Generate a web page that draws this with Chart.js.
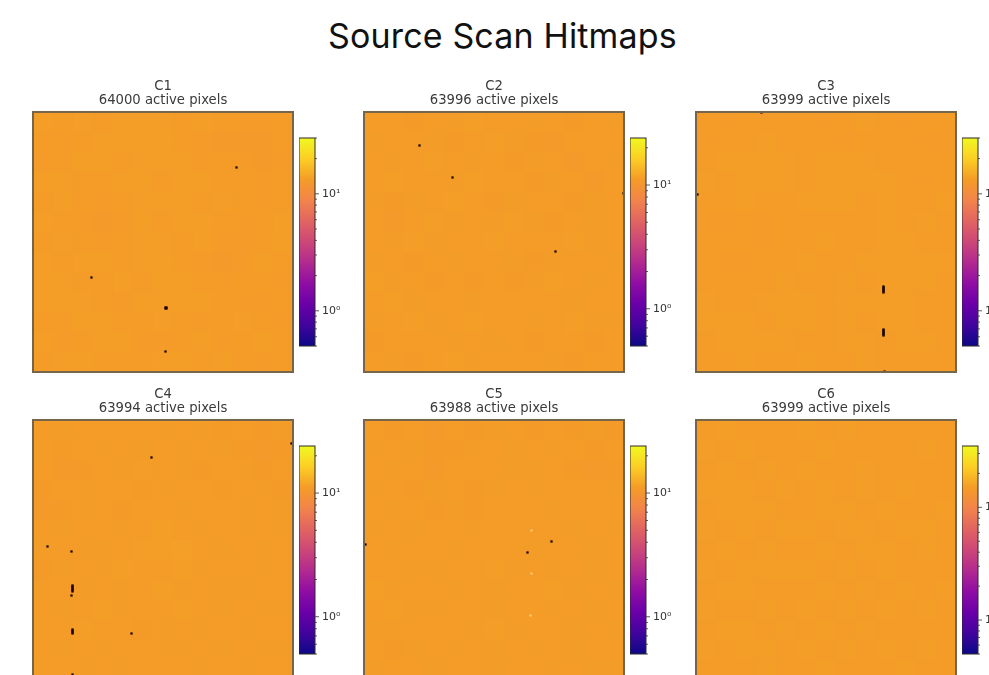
<!DOCTYPE html>
<html>
<head>
<meta charset="utf-8">
<title>Source Scan Hitmaps</title>
<script src="https://cdn.jsdelivr.net/npm/chart.js@4"></script>
<style>
    html, body { margin: 0; padding: 0; background: #fff; width: 989px; height: 675px; overflow: hidden; }
    #page { position: relative; width: 989px; height: 675px; overflow: hidden; }
    h1 { position: absolute; left: 328px; top: 13px; margin: 0; font: 400 34px/46px Inter, sans-serif; letter-spacing: 0.15px; color: #111; white-space: nowrap; }
    canvas { position: absolute; filter: blur(0.45px); }
</style>
</head>
<body>
<div id="page"><h1>Source Scan Hitmaps</h1></div>
<script>
// Panel names and the counts printed over each panel
const sensors = ['C1', 'C2', 'C3', 'C4', 'C5', 'C6'];
const activePixels = [64000, 63996, 63999, 63994, 63988, 63999];

const vmin = 0.5;
const vmaxes = [30, 24, 30, 24, 24, 35];
const cbarTicks = [0.5, 0.6, 0.7, 0.8, 0.9, 1, 2, 3, 4, 5, 6, 7, 8, 9, 10, 20, 30];
const labelledTicks = { 1: '10\u2070', 10: '10\u00b9' };

// Plasma colours, evenly spaced from vmin to vmax
const cmapStops = ['#0d0887', '#41049d', '#6a00a8', '#8f0da4', '#b12a90', '#cc4778', '#e16462', '#f2844b', '#f49c27', '#fcce25', '#f0f921'];

// Mean hits per block, 13 x 13 blocks, estimated by eye (single pixels are not readable)
const c1Hits = [
    [13.4, 13.1, 13.3, 13.2, 13.4, 13.5, 13.3, 13.2, 13.4, 13.1, 12.9, 13.0, 13.2],
    [13.2, 13.0, 13.2, 13.4, 13.5, 13.3, 13.4, 13.1, 13.0, 12.8, 12.7, 12.8, 13.1],
    [13.0, 13.2, 13.4, 13.3, 13.2, 13.4, 13.5, 13.3, 13.0, 13.1, 12.9, 12.8, 13.0],
    [13.3, 13.4, 13.1, 13.2, 13.5, 13.3, 13.2, 13.4, 13.3, 13.1, 13.2, 13.0, 13.2],
    [13.1, 13.3, 13.2, 12.9, 13.1, 13.4, 13.5, 13.3, 13.2, 13.4, 13.1, 12.9, 13.1],
    [13.4, 13.2, 13.0, 12.8, 13.0, 13.3, 13.2, 13.4, 13.5, 13.2, 13.0, 13.1, 13.3],
    [13.2, 13.4, 13.1, 13.0, 13.2, 13.4, 13.3, 13.1, 13.3, 13.0, 12.9, 13.2, 13.4],
    [13.3, 13.1, 13.3, 13.4, 13.2, 13.3, 13.5, 13.2, 13.0, 12.8, 13.0, 13.3, 13.2],
    [13.5, 13.4, 13.2, 13.1, 13.3, 13.2, 13.4, 13.3, 13.1, 12.9, 13.1, 13.2, 13.0],
    [13.4, 13.5, 13.3, 13.1, 13.0, 13.3, 13.4, 13.5, 13.3, 13.2, 13.0, 13.0, 13.2],
    [13.1, 13.2, 13.4, 13.3, 13.2, 13.1, 13.3, 13.2, 13.0, 13.1, 13.3, 13.1, 13.0],
    [13.3, 13.0, 13.2, 13.4, 13.3, 13.0, 12.9, 13.2, 13.3, 13.0, 13.2, 13.3, 13.1],
    [13.2, 13.3, 13.4, 13.2, 13.1, 13.2, 13.3, 13.4, 13.2, 13.3, 13.1, 13.0, 13.2]
];
const c2Hits = [
    [10.9, 11.1, 10.8, 10.9, 11.0, 11.2, 11.1, 10.9, 11.0, 11.1, 10.8, 10.9, 11.0],
    [11.0, 10.9, 11.1, 11.0, 10.8, 10.9, 11.2, 11.0, 10.8, 10.7, 10.9, 11.1, 10.9],
    [11.1, 11.0, 10.9, 11.2, 11.1, 11.0, 10.9, 10.8, 11.0, 10.9, 10.7, 10.9, 11.0],
    [10.9, 11.2, 11.1, 10.9, 11.0, 11.2, 11.1, 10.9, 10.8, 11.0, 10.9, 10.7, 10.9],
    [11.0, 10.8, 11.0, 11.1, 11.2, 10.9, 10.8, 11.0, 11.1, 10.9, 10.8, 11.0, 11.1],
    [11.1, 10.7, 10.9, 11.2, 11.0, 11.1, 11.0, 11.2, 11.0, 10.8, 11.1, 11.0, 10.9],
    [10.9, 11.0, 11.2, 11.0, 10.9, 11.1, 11.2, 11.1, 10.9, 11.1, 11.2, 11.0, 11.1],
    [11.0, 10.9, 10.8, 11.1, 11.0, 10.9, 11.1, 11.0, 10.8, 11.0, 11.1, 10.9, 11.0],
    [11.2, 11.0, 10.9, 10.8, 11.1, 10.8, 10.9, 10.8, 11.0, 11.2, 10.9, 11.0, 11.1],
    [11.1, 11.2, 11.0, 11.1, 10.9, 11.0, 11.1, 10.9, 10.9, 11.1, 11.0, 11.1, 10.9],
    [11.0, 11.1, 11.2, 11.0, 11.1, 11.2, 10.9, 11.1, 11.0, 10.9, 11.2, 11.0, 11.0],
    [10.8, 10.9, 11.1, 10.9, 11.0, 11.1, 11.0, 10.9, 10.8, 11.1, 10.9, 10.8, 10.9],
    [10.9, 11.0, 10.8, 11.1, 11.2, 11.0, 10.9, 11.1, 10.9, 11.0, 10.8, 10.9, 11.1]
];
const c3Hits = [
    [13.1, 13.0, 13.2, 13.1, 13.2, 13.1, 13.0, 13.2, 13.3, 13.1, 13.0, 13.2, 13.1],
    [13.0, 13.1, 13.2, 13.3, 13.1, 13.2, 13.1, 13.0, 13.2, 13.2, 13.1, 13.0, 13.0],
    [13.2, 13.3, 13.4, 13.4, 13.3, 13.2, 13.3, 13.4, 13.3, 13.2, 13.1, 13.1, 13.2],
    [13.3, 13.2, 13.4, 13.5, 13.3, 13.2, 13.3, 13.5, 13.4, 13.3, 13.2, 13.0, 13.1],
    [13.1, 13.2, 13.3, 13.2, 13.1, 13.3, 13.4, 13.3, 13.2, 13.3, 13.1, 13.2, 13.3],
    [13.0, 12.9, 13.1, 13.0, 13.2, 13.1, 13.2, 13.2, 13.1, 13.3, 13.2, 13.3, 13.1],
    [13.2, 13.1, 13.2, 13.0, 13.1, 13.2, 13.3, 13.1, 13.2, 13.3, 13.4, 13.2, 13.2],
    [13.1, 13.0, 13.0, 13.2, 13.2, 13.3, 13.1, 13.2, 13.3, 13.4, 13.3, 13.4, 13.3],
    [13.2, 13.2, 13.1, 13.1, 13.3, 13.2, 13.2, 13.3, 13.2, 13.3, 13.4, 13.3, 13.2],
    [13.3, 13.1, 13.2, 13.3, 13.4, 13.3, 13.2, 13.4, 13.4, 13.4, 13.3, 13.2, 13.1],
    [13.3, 13.4, 13.3, 13.2, 13.3, 13.4, 13.2, 13.3, 13.2, 13.3, 13.4, 13.2, 13.2],
    [13.2, 13.3, 13.4, 13.4, 13.3, 13.1, 13.2, 13.3, 13.3, 13.2, 13.3, 13.3, 13.1],
    [13.1, 13.2, 13.3, 13.2, 13.2, 13.3, 13.1, 13.2, 13.3, 13.2, 13.2, 13.1, 13.2]
];
const c4Hits = [
    [10.9, 11.0, 10.9, 11.1, 10.9, 11.1, 11.0, 10.9, 11.0, 10.8, 10.9, 10.8, 11.0],
    [11.0, 10.8, 10.9, 11.0, 11.1, 11.0, 11.1, 11.0, 10.9, 11.0, 10.8, 10.7, 10.8],
    [10.9, 10.7, 10.8, 10.9, 11.0, 11.2, 11.1, 11.0, 10.8, 10.9, 11.0, 10.8, 10.9],
    [10.8, 10.9, 11.0, 11.1, 10.9, 10.8, 11.0, 11.1, 10.9, 10.8, 10.9, 11.0, 10.8],
    [10.7, 10.8, 11.0, 10.9, 10.8, 10.9, 11.1, 11.0, 10.9, 11.1, 11.0, 10.9, 11.0],
    [10.9, 11.0, 10.9, 11.1, 11.0, 11.1, 11.2, 11.1, 11.0, 10.9, 11.0, 11.1, 11.0],
    [11.0, 10.9, 11.0, 11.0, 11.1, 11.2, 11.2, 11.3, 11.1, 11.0, 11.1, 11.0, 10.9],
    [10.8, 11.0, 11.1, 11.0, 11.2, 11.1, 11.1, 11.2, 11.0, 11.1, 10.9, 11.0, 11.1],
    [11.0, 10.9, 11.0, 11.1, 11.0, 11.1, 11.2, 11.0, 10.9, 11.0, 11.0, 11.1, 10.9],
    [11.1, 11.0, 11.1, 11.2, 11.0, 10.9, 11.1, 11.2, 11.1, 11.0, 11.1, 11.0, 11.0],
    [11.0, 10.9, 11.2, 11.1, 10.9, 10.8, 11.0, 11.1, 11.0, 10.9, 11.0, 10.9, 11.1],
    [10.9, 11.0, 11.1, 11.0, 11.1, 10.9, 11.0, 11.0, 11.1, 11.0, 10.9, 11.0, 11.0],
    [11.0, 11.1, 11.0, 10.9, 11.0, 11.1, 10.9, 11.1, 11.0, 11.1, 11.0, 11.1, 10.9]
];
const c5Hits = [
    [10.9, 10.8, 10.9, 10.7, 10.9, 10.8, 11.0, 10.9, 10.8, 10.9, 10.8, 11.0, 10.8],
    [11.0, 10.9, 11.0, 10.8, 10.8, 11.0, 10.9, 11.0, 10.9, 11.0, 10.9, 10.8, 10.9],
    [10.9, 11.0, 10.9, 10.7, 10.9, 11.1, 10.9, 11.0, 11.0, 10.9, 10.8, 10.7, 10.8],
    [11.0, 11.1, 10.8, 11.0, 10.9, 10.8, 11.0, 10.9, 11.0, 11.1, 10.9, 10.9, 11.0],
    [10.9, 11.0, 10.9, 10.8, 11.0, 10.8, 10.9, 11.1, 10.9, 11.0, 10.9, 11.1, 10.9],
    [11.0, 10.9, 11.0, 10.9, 10.9, 11.0, 11.1, 10.9, 11.1, 10.9, 11.0, 10.9, 11.0],
    [11.1, 11.0, 10.9, 11.1, 11.0, 11.1, 10.9, 11.1, 11.0, 11.1, 10.9, 11.0, 11.1],
    [10.9, 11.1, 11.0, 11.0, 11.1, 10.9, 11.2, 11.0, 11.1, 11.0, 11.1, 11.0, 10.9],
    [11.2, 11.0, 10.9, 11.1, 11.0, 11.1, 11.0, 11.1, 10.9, 11.2, 11.0, 11.1, 11.0],
    [11.1, 11.2, 11.0, 11.0, 10.9, 11.1, 11.0, 10.9, 11.1, 11.0, 11.1, 11.0, 11.1],
    [11.0, 11.0, 11.1, 10.9, 11.1, 11.0, 11.2, 11.0, 11.1, 10.9, 11.0, 11.1, 11.0],
    [10.9, 10.8, 11.0, 11.1, 11.0, 10.9, 11.0, 11.1, 11.0, 11.1, 11.0, 10.9, 10.9],
    [11.0, 11.1, 10.9, 11.0, 10.9, 11.1, 11.0, 10.9, 11.1, 11.0, 10.9, 11.0, 11.0]
];
const c6Hits = [
    [15.0, 15.1, 15.0, 14.9, 15.0, 15.1, 15.0, 15.1, 15.0, 15.0, 14.9, 15.0, 14.9],
    [15.1, 15.0, 15.1, 15.0, 14.9, 15.0, 15.1, 15.0, 14.9, 15.0, 15.0, 15.1, 15.0],
    [15.0, 15.1, 15.0, 15.1, 15.0, 15.1, 15.0, 14.9, 15.1, 15.0, 14.9, 15.0, 15.0],
    [15.1, 15.2, 15.1, 15.0, 15.1, 15.0, 15.1, 15.0, 15.1, 15.0, 15.1, 15.0, 14.9],
    [15.0, 15.1, 15.2, 15.1, 14.9, 15.0, 15.1, 15.1, 15.0, 15.1, 15.0, 15.0, 15.1],
    [15.1, 15.0, 15.1, 15.0, 15.1, 15.1, 15.0, 15.2, 15.1, 15.0, 15.1, 15.1, 15.0],
    [15.0, 15.1, 15.0, 15.1, 15.0, 15.0, 15.1, 15.0, 15.1, 15.1, 15.0, 15.1, 15.0],
    [15.1, 15.0, 15.1, 15.1, 15.2, 15.1, 15.0, 15.1, 15.0, 15.1, 15.0, 14.9, 15.0],
    [15.0, 15.1, 15.1, 15.0, 14.9, 15.0, 15.1, 15.0, 15.1, 15.0, 15.1, 15.0, 15.1],
    [15.1, 15.0, 15.0, 15.1, 15.0, 15.1, 15.0, 15.1, 15.0, 15.1, 15.0, 15.1, 15.0],
    [15.0, 15.1, 15.1, 15.0, 15.1, 15.0, 15.1, 15.0, 15.1, 15.0, 15.0, 15.0, 14.9],
    [15.1, 15.0, 15.1, 15.1, 15.0, 15.1, 15.0, 15.1, 15.0, 15.1, 15.0, 15.1, 15.0],
    [15.0, 14.9, 15.0, 15.1, 15.0, 15.0, 15.1, 15.0, 14.9, 15.0, 15.1, 15.0, 14.9]
];
const panelHits = [c1Hits, c2Hits, c3Hits, c4Hits, c5Hits, c6Hits];

// Dark dead pixels as [column, row] on a 260 x 260 axis
const c1Dead = [[203, 55], [58, 165], [132, 195], [133, 195], [132, 196], [133, 196], [132, 239]];
const c2Dead = [[55, 33], [88, 65], [191, 139], [259, 81]];
const c3Dead = [[187, 174], [187, 175], [187, 176], [187, 177], [187, 178], [187, 179], [187, 180],
    [187, 217], [187, 218], [187, 219], [187, 220], [187, 221], [187, 222], [187, 223],
    [188, 259], [65, 0], [1, 82]];
const c4Dead = [[118, 37], [258, 23], [14, 126], [38, 131],
    [39, 165], [39, 166], [39, 167], [39, 168], [39, 169], [39, 170], [39, 171], [38, 175],
    [39, 209], [39, 210], [39, 211], [39, 212], [39, 213], [98, 213], [39, 254]];
const c5Dead = [[187, 121], [163, 132], [1, 124]];
const c6Dead = [];
const panelDead = [c1Dead, c2Dead, c3Dead, c4Dead, c5Dead, c6Dead];

// Pale hot spots visible in C5 only
const c5Hot = [[167, 110], [167, 153], [166, 195]];

// Page positions of the six panels
const panelLefts = [33, 364, 696, 33, 364, 696];
const panelTops = [112, 112, 112, 420, 420, 420];
const PANEL_SIZE = 260;
const BLOCK = 20;

function hexToRgb(hex) {
    return [1, 3, 5].map(i => parseInt(hex.substr(i, 2), 16));
}

function colourFor(hits, vmax) {
    const t = Math.min(1, Math.max(0, Math.log(hits / vmin) / Math.log(vmax / vmin)));
    const pos = t * (cmapStops.length - 1);
    const i = Math.min(cmapStops.length - 2, Math.floor(pos));
    const a = hexToRgb(cmapStops[i]);
    const b = hexToRgb(cmapStops[i + 1]);
    const rgb = a.map((v, k) => Math.round(v + (b[k] - v) * (pos - i)));
    return `rgb(${rgb[0]},${rgb[1]},${rgb[2]})`;
}

function addCanvas(left, top, width, height) {
    const canvas = document.createElement('canvas');
    canvas.width = width;
    canvas.height = height;
    canvas.style.left = left + 'px';
    canvas.style.top = top + 'px';
    canvas.style.width = width + 'px';
    canvas.style.height = height + 'px';
    document.getElementById('page').appendChild(canvas);
    return canvas;
}

// Frame around the image axes and the colorbar
const framePlugin = {
    id: 'frame',
    afterDraw(chart, args, opts) {
        const { ctx, chartArea } = chart;
        ctx.save();
        ctx.strokeStyle = opts.color;
        ctx.lineWidth = opts.width;
        ctx.strokeRect(chartArea.left, chartArea.top, chartArea.right - chartArea.left, chartArea.bottom - chartArea.top);
        ctx.restore();
    }
};

// Chart.js has one tick length per axis, the colorbar needs major and minor ones
const cbarTickPlugin = {
    id: 'cbarTicks',
    afterDraw(chart) {
        const { ctx, chartArea, scales } = chart;
        ctx.save();
        ctx.strokeStyle = '#333';
        ctx.lineWidth = 0.8;
        scales.y.ticks.forEach(tick => {
            const y = scales.y.getPixelForValue(tick.value);
            const len = labelledTicks[tick.value] ? 4 : 2;
            ctx.beginPath();
            ctx.moveTo(chartArea.right, y);
            ctx.lineTo(chartArea.right + len, y);
            ctx.stroke();
        });
        ctx.restore();
    }
};

function initHitmap(index) {
    const left = panelLefts[index];
    const top = panelTops[index];
    const vmax = vmaxes[index];
    const canvas = addCanvas(left - 16, top - 40, PANEL_SIZE + 32, PANEL_SIZE + 56);

    const blocks = [];
    panelHits[index].forEach((row, r) => {
        row.forEach((hits, c) => {
            blocks.push({ x: (c + 0.5) * BLOCK, y: (r + 0.5) * BLOCK, hits: hits });
        });
    });
    const toPoint = p => ({ x: p[0] + 0.5, y: p[1] + 0.5 });

    new Chart(canvas, {
        type: 'scatter',
        plugins: [framePlugin],
        data: {
            datasets: [
                {
                    label: 'Dead pixels',
                    data: panelDead[index].map(toPoint),
                    pointStyle: 'rect',
                    pointRadius: 1.6,
                    pointBorderWidth: 0,
                    backgroundColor: '#1c0606',
                    order: 1
                },
                {
                    label: 'Hot pixels',
                    data: index === 4 ? c5Hot.map(toPoint) : [],
                    pointStyle: 'circle',
                    pointRadius: 1.3,
                    pointBorderWidth: 0,
                    backgroundColor: '#fbc76a',
                    order: 2
                },
                {
                    label: 'Hits',
                    data: blocks,
                    pointStyle: 'rect',
                    pointRadius: BLOCK / Math.SQRT2 + 0.4,
                    pointBorderWidth: 0,
                    backgroundColor: ctx => colourFor(ctx.raw ? ctx.raw.hits : vmin, vmax),
                    order: 3
                }
            ]
        },
        options: {
            responsive: false,
            animation: false,
            events: [],
            layout: { padding: { left: 16, right: 16, top: 0, bottom: 16 } },
            scales: {
                x: { type: 'linear', min: 0, max: PANEL_SIZE, display: false },
                y: { type: 'linear', min: 0, max: PANEL_SIZE, reverse: true, display: false }
            },
            plugins: {
                legend: { display: false },
                tooltip: { enabled: false },
                frame: { color: '#75654a', width: 2 },
                title: {
                    display: true,
                    text: [sensors[index], activePixels[index] + ' active pixels'],
                    color: '#3a3a3a',
                    font: { family: '"DejaVu Sans"', size: 13.2, weight: 'normal', lineHeight: 1.06 },
                    padding: { top: 8, bottom: 4 }
                }
            }
        }
    });
}

function initColorbar(index) {
    const barLeft = panelLefts[index] + 265.5;
    const barTop = panelTops[index] + 26;
    const vmax = vmaxes[index];
    const canvas = addCanvas(barLeft, barTop - 4, 46, 216);

    new Chart(canvas, {
        type: 'bar',
        plugins: [framePlugin, cbarTickPlugin],
        data: {
            labels: [sensors[index]],
            datasets: [{
                data: [[vmin, vmax]],
                barPercentage: 1,
                categoryPercentage: 1,
                borderWidth: 0,
                backgroundColor: ctx => {
                    const area = ctx.chart.chartArea;
                    if (!area) return cmapStops[0];
                    const g = ctx.chart.ctx.createLinearGradient(0, area.bottom, 0, area.top);
                    cmapStops.forEach((c, i) => g.addColorStop(i / (cmapStops.length - 1), c));
                    return g;
                }
            }]
        },
        options: {
            responsive: false,
            animation: false,
            events: [],
            layout: { padding: { left: 0, right: 0, top: 4, bottom: 4 } },
            scales: {
                x: { display: false },
                y: {
                    type: 'logarithmic',
                    position: 'right',
                    min: vmin,
                    max: vmax,
                    afterFit: scale => {
                        scale.width = 30;
                        scale.paddingTop = 0;
                        scale.paddingBottom = 0;
                    },
                    afterBuildTicks: scale => {
                        scale.ticks = cbarTicks.filter(v => v <= vmax).map(v => ({ value: v }));
                    },
                    border: { display: false },
                    grid: { display: false, drawTicks: false },
                    ticks: {
                        autoSkip: false,
                        maxRotation: 0,
                        padding: 7,
                        color: '#333',
                        font: { family: '"DejaVu Sans"', size: 11 },
                        callback: value => labelledTicks[value] || ''
                    }
                }
            },
            plugins: {
                legend: { display: false },
                tooltip: { enabled: false },
                frame: { color: '#2e2a28', width: 1 }
            }
        }
    });
}

sensors.forEach((name, i) => {
    initHitmap(i);
    initColorbar(i);
});
</script>
</body>
</html>
